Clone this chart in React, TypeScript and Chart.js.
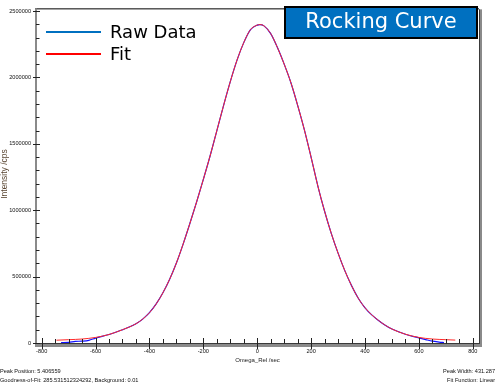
import React, { useEffect, useRef } from 'react';
import { Chart, registerables } from 'chart.js';

Chart.register(...registerables);

// ---- data ----
const rawX = [-728, -700, -675, -650, -625, -600, -550, -500, -475, -450, -425, -400, -375, -350, -325, -300, -275, -250, -225, -200, -175, -150, -125, -100, -75, -50, -25, 0, 10, 25, 50, 75, 100, 125, 150, 175, 200, 225, 250, 275, 300, 325, 350, 375, 400, 425, 450, 475, 500, 550, 600, 625, 650, 675, 693];
const rawY = [3000, 5000, 12000, 14000, 20000, 37000, 64000, 100000, 120000, 145000, 180000, 228000, 294000, 378000, 480000, 602000, 745000, 900000, 1062000, 1232000, 1408000, 1598000, 1788000, 1968000, 2130000, 2262000, 2360000, 2394000, 2398000, 2388000, 2330000, 2225000, 2100000, 1960000, 1790000, 1605000, 1398000, 1182000, 992000, 824000, 677000, 545000, 432000, 337000, 265000, 212000, 170000, 134000, 105000, 66000, 39000, 26000, 14000, 7000, 3000];

const fitX = [-745, -700, -650, -600, -550, -500, -475, -450, -425, -400, -375, -350, -325, -300, -275, -250, -225, -200, -175, -150, -125, -100, -75, -50, -25, 0, 10, 25, 50, 75, 100, 125, 150, 175, 200, 225, 250, 275, 300, 325, 350, 375, 400, 425, 450, 475, 500, 550, 600, 650, 700, 735];
const fitY = [21000, 25000, 30000, 42000, 64000, 100000, 120000, 145000, 180000, 228000, 294000, 378000, 480000, 602000, 745000, 900000, 1062000, 1232000, 1408000, 1598000, 1788000, 1968000, 2130000, 2262000, 2360000, 2394000, 2398000, 2388000, 2330000, 2225000, 2100000, 1960000, 1790000, 1605000, 1398000, 1182000, 992000, 824000, 677000, 545000, 432000, 337000, 265000, 212000, 170000, 134000, 105000, 66000, 42000, 30000, 25000, 22000];

const seriesNames = ['Raw Data', 'Fit'];
const xTickValues = [-800, -600, -400, -200, 0, 200, 400, 600, 800];
const yTickValues = [0, 500000, 1000000, 1500000, 2000000, 2500000];
const xMinorStep = 50;
const yMinorStep = 100000;
const chartTitle = 'Rocking Curve';
const xAxisTitle = 'Omega_Rel /sec';
const yAxisTitle = 'Intensity /cps';
const footLeft = ['Peak Position: 5.406559', 'Goodness-of-Fit: 285.531512324292, Background: 0.01'];
const footRight = ['Peak Width: 431.287', 'Fit Function: Linear'];

const SMALL_FONT = '5.6px "Liberation Sans", Arial, sans-serif';

const decorPlugin = {
  id: 'decor',
  afterDatasetsDraw(chart: any) {
    const ctx = chart.ctx as CanvasRenderingContext2D;
    const area = chart.chartArea;
    const xs = chart.scales.x;
    const ys = chart.scales.y;
    ctx.save();
    // frame
    ctx.fillStyle = '#000';
    ctx.fillRect(area.left - 1, area.top, area.right - area.left + 1, 1);
    ctx.fillStyle = '#8a8a8a';
    ctx.fillRect(area.left - 1, area.top, 2, area.bottom - area.top + 4);
    ctx.fillRect(area.right, area.top + 1, 3, area.bottom - area.top + 3);
    ctx.fillRect(area.left - 1, area.bottom + 0.5, area.right - area.left + 4, 3.5);
    ctx.fillStyle = '#3a3a3a';
    ctx.fillRect(area.left - 1, area.bottom, area.right - area.left + 1, 1);
    ctx.fillRect(area.right, area.top + 1, 1, area.bottom - area.top);

    // x ticks
    ctx.strokeStyle = '#222';
    ctx.lineWidth = 1;
    for (let v = xTickValues[0]; v <= xTickValues[xTickValues.length - 1]; v += xMinorStep) {
      const px = Math.round(xs.getPixelForValue(v)) + 0.5;
      const major = xTickValues.includes(v);
      ctx.beginPath();
      ctx.moveTo(px, area.bottom - (major ? 5 : 4));
      ctx.lineTo(px, area.bottom + (major ? 6 : 0.5));
      ctx.stroke();
    }
    // y ticks
    for (let v = yTickValues[0]; v <= yTickValues[yTickValues.length - 1]; v += yMinorStep) {
      const py = Math.round(ys.getPixelForValue(v)) + 0.5;
      const major = yTickValues.includes(v);
      ctx.beginPath();
      ctx.moveTo(area.left - (major ? 3 : 0), py);
      ctx.lineTo(area.left + (major ? 4 : 3.5), py);
      ctx.stroke();
    }
    ctx.restore();
  },
  afterDraw(chart: any) {
    const ctx = chart.ctx as CanvasRenderingContext2D;
    const area = chart.chartArea;
    ctx.save();
    // legend
    const legendColors = ['#0070c0', '#ff0000'];
    const legendY = [32, 54];
    ctx.font = '18px "DejaVu Sans", Verdana, sans-serif';
    ctx.textBaseline = 'middle';
    ctx.textAlign = 'left';
    seriesNames.forEach((name, i) => {
      ctx.strokeStyle = legendColors[i];
      ctx.lineWidth = 2;
      ctx.beginPath();
      ctx.moveTo(46, legendY[i]);
      ctx.lineTo(101, legendY[i]);
      ctx.stroke();
      ctx.fillStyle = '#000';
      ctx.fillText(name, 110, legendY[i] + 1);
    });

    // title box
    ctx.fillStyle = '#0070c0';
    ctx.fillRect(284, 6, 194, 33);
    ctx.strokeStyle = '#000';
    ctx.lineWidth = 2;
    ctx.strokeRect(285, 7, 192, 31);
    ctx.fillStyle = '#fff';
    ctx.font = '21px "DejaVu Sans", Verdana, sans-serif';
    ctx.textAlign = 'center';
    ctx.textBaseline = 'alphabetic';
    ctx.fillText(chartTitle, 381, 27.5);

    // axis titles
    ctx.fillStyle = '#222';
    ctx.font = '6px "Liberation Sans", Arial, sans-serif';
    ctx.textAlign = 'center';
    ctx.textBaseline = 'middle';
    ctx.fillText(xAxisTitle, (area.left + area.right) / 2 + 0, 360.5);
    ctx.save();
    ctx.translate(5, 174);
    ctx.rotate(-Math.PI / 2);
    ctx.fillStyle = '#5a4632';
    ctx.font = '8.5px "Liberation Sans", Arial, sans-serif';
    ctx.fillText(yAxisTitle, 0, 0);
    ctx.restore();

    // footers
    ctx.fillStyle = '#111';
    ctx.font = SMALL_FONT;
    ctx.textBaseline = 'middle';
    ctx.textAlign = 'left';
    ctx.fillText(footLeft[0], 0, 371.5);
    ctx.fillText(footLeft[1], 0, 380.7);
    ctx.textAlign = 'right';
    ctx.fillText(footRight[0], 495, 371.5);
    ctx.fillText(footRight[1], 495, 380.7);
    ctx.restore();
  },
};

export default function App() {
  const canvasRef = useRef<HTMLCanvasElement | null>(null);

  useEffect(() => {
    document.body.style.margin = '0';
    const canvas = canvasRef.current;
    if (!canvas) return;
    const chart = new Chart(canvas, {
      type: 'line',
      data: {
        datasets: [
          {
            label: seriesNames[0],
            data: rawX.map((x, i) => ({ x, y: rawY[i] })),
            borderColor: '#1010ff',
            borderWidth: 1.2,
            pointRadius: 0,
            cubicInterpolationMode: 'monotone',
            order: 1,
          },
          {
            label: seriesNames[1],
            data: fitX.map((x, i) => ({ x, y: fitY[i] })),
            borderColor: '#ff2a2a',
            borderWidth: 1,
            pointRadius: 0,
            cubicInterpolationMode: 'monotone',
            order: 0,
          },
        ],
      },
      options: {
        animation: false,
        responsive: false,
        maintainAspectRatio: false,
        devicePixelRatio: 1,
        layout: { padding: { top: 8, right: 16, left: 0, bottom: 0 } },
        plugins: {
          legend: { display: false },
          title: { display: false },
          tooltip: { enabled: false },
        },
        scales: {
          x: {
            type: 'linear',
            min: -821,
            max: 823,
            afterBuildTicks: (s: any) => {
              s.ticks = xTickValues.map((v) => ({ value: v }));
            },
            afterFit: (s: any) => {
              s.height = 44;
            },
            grid: { display: false, drawTicks: false },
            border: { display: false },
            ticks: {
              autoSkip: false,
              maxRotation: 0,
              padding: 5,
              color: '#111',
              font: { family: '"Liberation Sans", Arial, sans-serif', size: 5.6 },
              callback: (v: any) => String(v),
            },
          },
          y: {
            type: 'linear',
            min: 0,
            max: 2520000,
            afterBuildTicks: (s: any) => {
              s.ticks = yTickValues.map((v) => ({ value: v }));
            },
            afterFit: (s: any) => {
              s.width = 36;
            },
            grid: { display: false, drawTicks: false },
            border: { display: false },
            ticks: {
              autoSkip: false,
              padding: 5,
              color: '#111',
              font: { family: '"Liberation Sans", Arial, sans-serif', size: 5.6 },
              callback: (v: any) => String(v),
            },
          },
        },
      },
      plugins: [decorPlugin],
    });
    return () => chart.destroy();
  }, []);

  return (
    <div style={{ position: 'absolute', left: 0, top: 0, width: 495, height: 387, background: '#fff' }}>
      <canvas ref={canvasRef} width={495} height={387} style={{ display: 'block' }} />
    </div>
  );
}
